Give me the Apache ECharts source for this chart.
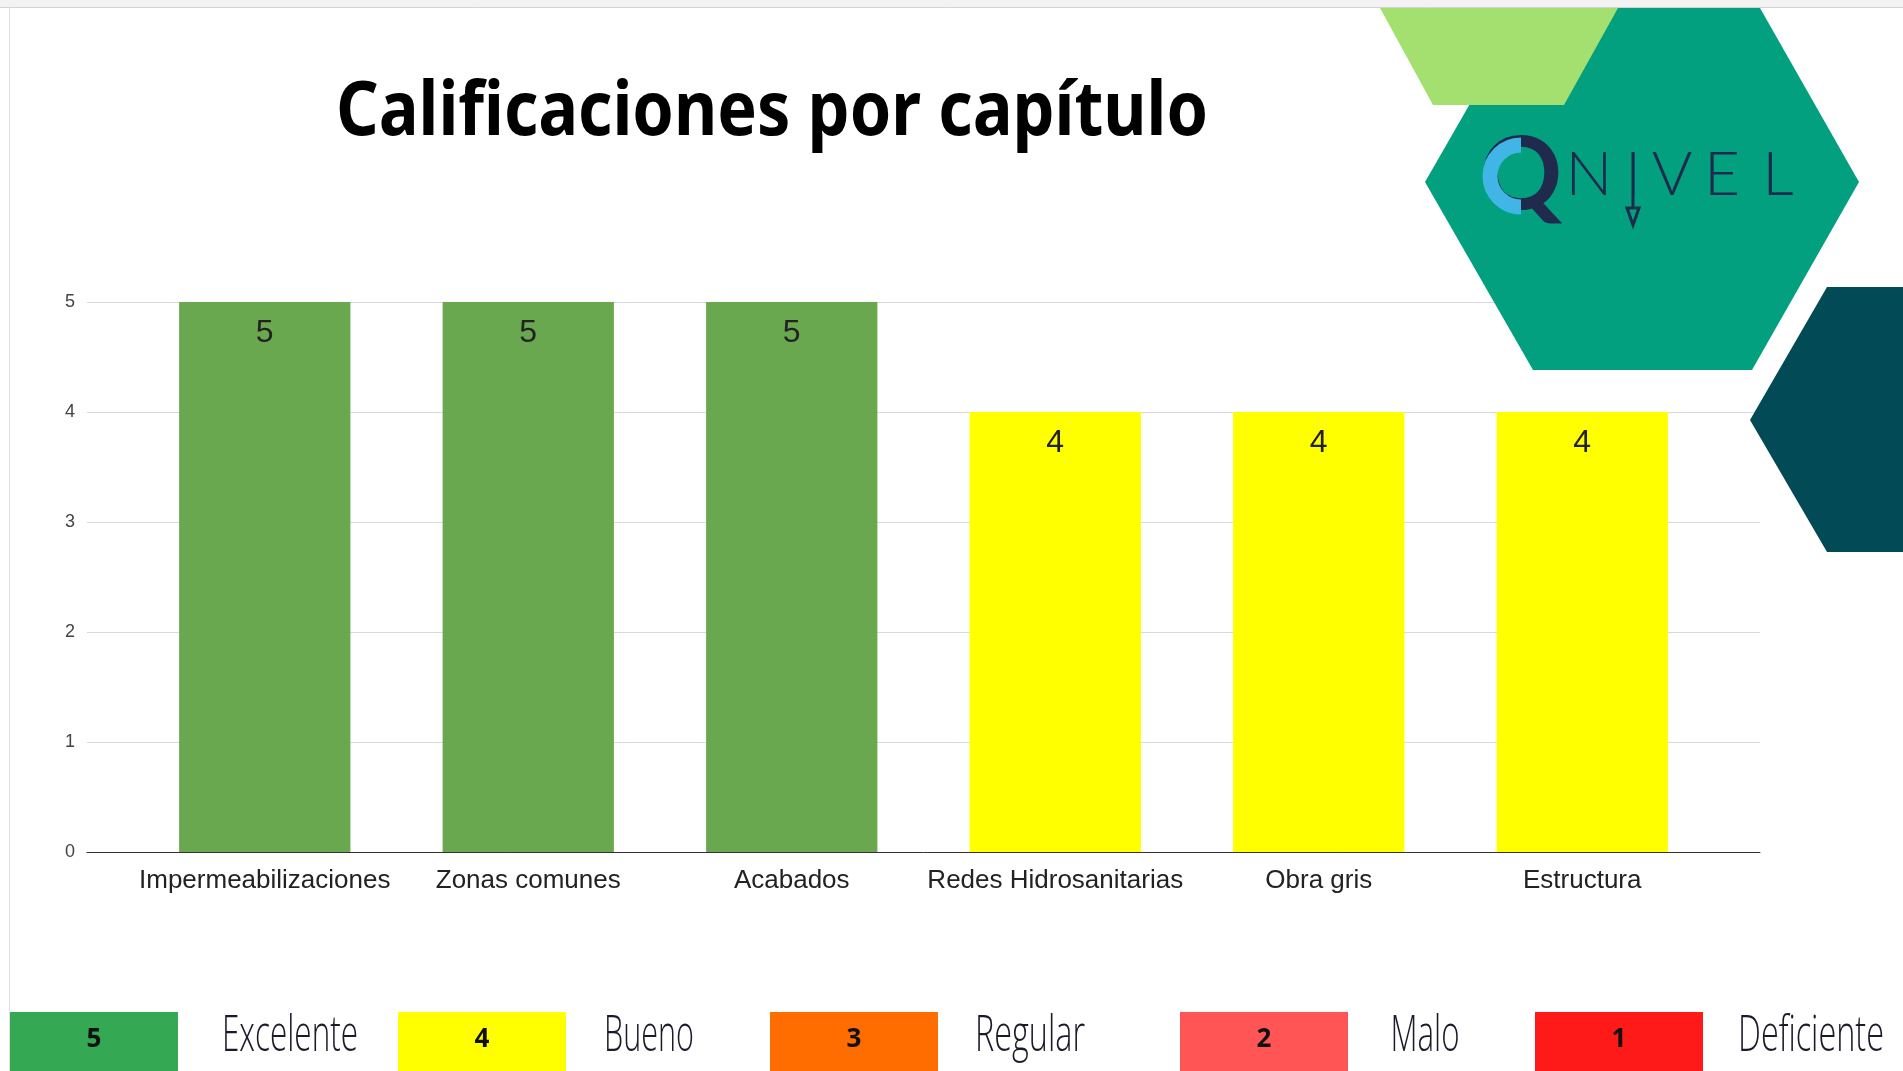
<!DOCTYPE html>
<html><head><meta charset="utf-8">
<script src="https://cdn.jsdelivr.net/npm/echarts@6/dist/echarts.min.js"></script>
<style>html,body{margin:0;padding:0;background:#fff}#c{width:1903px;height:1071px}</style>
</head><body><div id="c"></div>
<script>
// ---- data ----
const categories = ['Impermeabilizaciones', 'Zonas comunes', 'Acabados', 'Redes Hidrosanitarias', 'Obra gris', 'Estructura'];
const scores = [5, 5, 5, 4, 4, 4];
const yTicks = [0, 1, 2, 3, 4, 5];
const scaleValues = ['5', '4', '3', '2', '1'];
const scaleNames = ['Excelente', 'Bueno', 'Regular', 'Malo', 'Deficiente'];
const titleText = 'Calificaciones por capítulo';
const logoLetters = ['N', 'I', 'V', 'E', 'L'];

// ---- styles / layout ----
const scaleColors = ['#34a853', '#ffff00', '#ff6d01', '#ff5555', '#ff1a1a'];
const barColors = { 5: '#6aa84f', 4: '#ffff00' };
const boxLeft = [10, 398, 770, 1180, 1535];
const boxW = 168;
const labelCenter = [290, 649, 1030, 1425, 1811];
const labelWidth = [136, 90, 110, 69, 146];
const letterCenter = [1589, 1633, 1672, 1722, 1778];
const navy = '#1f2a4d';

const mctx = document.createElement('canvas').getContext('2d');
function fitScale(text, font, target) { mctx.font = font; return target / mctx.measureText(text).width; }

const titleFont = 'bold 76px "Noto Sans"';
const legendFont = '300 50px "Open Sans"';

const g = [];
// slide frame
g.push({ type: 'rect', shape: { x: 0, y: 0, width: 1903, height: 7 }, style: { fill: '#f2f2f2' }, z: 1 });
g.push({ type: 'line', shape: { x1: 0, y1: 7.5, x2: 1903, y2: 7.5 }, style: { stroke: '#d4d4d4', lineWidth: 1 }, z: 1 });
g.push({ type: 'line', shape: { x1: 9.5, y1: 7, x2: 9.5, y2: 1071 }, style: { stroke: '#e0e0e0', lineWidth: 1 }, z: 1 });
// title
g.push({ type: 'text', x: 772, y: 113, scaleX: fitScale(titleText, titleFont, 872), z: 50,
  style: { text: titleText, font: titleFont, fill: '#000', textAlign: 'center', textVerticalAlign: 'middle' } });
// logo shapes
g.push({ type: 'polygon', z: 100, shape: { points: [[1525, 8], [1760, 8], [1859, 182], [1752, 370], [1533, 370], [1425, 182]] }, style: { fill: '#03a07f' } });
g.push({ type: 'polygon', z: 101, shape: { points: [[1380, 8], [1618, 8], [1564, 105], [1433, 105]] }, style: { fill: '#a3e070' } });
g.push({ type: 'polygon', z: 100, shape: { points: [[1827, 287], [1903, 287], [1903, 552], [1827, 552], [1750, 420]] }, style: { fill: '#024a55' } });
// logo Q
g.push({ type: 'text', z: 110, x: 1521, y: 176, style: { text: 'Q', font: 'bold 102px Lato', fill: navy, textAlign: 'center', textVerticalAlign: 'middle' } });
g.push({ type: 'arc', z: 111, shape: { cx: 1521, cy: 176, r: 31, startAngle: Math.PI / 2, endAngle: Math.PI * 1.5, clockwise: true }, style: { stroke: '#41b6e6', lineWidth: 15, fill: null } });
// logo letters
logoLetters.forEach((ch, i) => {
  g.push({ type: 'text', z: 110, x: letterCenter[i], y: 175, style: { text: ch, font: '300 62px Lato', fill: navy, textAlign: 'center', textVerticalAlign: 'middle' } });
});
g.push({ type: 'line', z: 110, shape: { x1: 1633, y1: 195, x2: 1633, y2: 207 }, style: { stroke: navy, lineWidth: 3 } });
g.push({ type: 'polygon', z: 110, shape: { points: [[1627, 208], [1639, 208], [1633, 225]] }, style: { stroke: navy, lineWidth: 3, fill: null } });
// legend
scaleValues.forEach((v, i) => {
  g.push({ type: 'rect', z: 20, shape: { x: boxLeft[i], y: 1012, width: boxW, height: 60 }, style: { fill: scaleColors[i] } });
  g.push({ type: 'text', z: 21, x: boxLeft[i] + boxW / 2, y: 1040, style: { text: v, font: 'bold 26px "Open Sans"', fill: '#111', textAlign: 'center', textVerticalAlign: 'middle' } });
  g.push({ type: 'text', z: 21, x: labelCenter[i], y: 1037, scaleX: fitScale(scaleNames[i], legendFont, labelWidth[i]),
    style: { text: scaleNames[i], font: legendFont, fill: '#1a1a2a', textAlign: 'center', textVerticalAlign: 'middle' } });
});

const chart = echarts.init(document.getElementById('c'));
const fam = '"Liberation Sans", Arial, sans-serif';
chart.setOption({
  animation: false,
  grid: [
    { left: 87, right: 143, top: 302, bottom: 219 },
    { left: 133, right: 189, top: 302, bottom: 219 }
  ],
  xAxis: [
    { gridIndex: 0, type: 'value', min: 0, max: 1, axisLine: { show: true, lineStyle: { color: '#333', width: 1 } }, axisTick: { show: false }, axisLabel: { show: false }, splitLine: { show: false } },
    { gridIndex: 1, type: 'category', data: categories, axisLine: { show: false }, axisTick: { show: false },
      axisLabel: { interval: 0, fontSize: 26, color: '#222', fontFamily: fam, margin: 16 } }
  ],
  yAxis: [
    { gridIndex: 0, type: 'value', min: yTicks[0], max: yTicks[yTicks.length - 1], interval: yTicks[1] - yTicks[0],
      axisLine: { show: false }, axisTick: { show: false },
      axisLabel: { fontSize: 18, color: '#444', margin: 12, fontFamily: fam },
      splitLine: { lineStyle: { color: '#d9d9d9', width: 1 } } },
    { gridIndex: 1, type: 'value', min: yTicks[0], max: yTicks[yTicks.length - 1], interval: yTicks[1] - yTicks[0], show: false }
  ],
  series: [{
    type: 'bar', xAxisIndex: 1, yAxisIndex: 1, barWidth: '65%',
    data: scores.map(v => ({ value: v, itemStyle: { color: barColors[v] } })),
    label: { show: true, position: 'insideTop', distance: 15, fontSize: 32, color: '#222', fontFamily: fam }
  }],
  graphic: { elements: g }
});
</script></body></html>
